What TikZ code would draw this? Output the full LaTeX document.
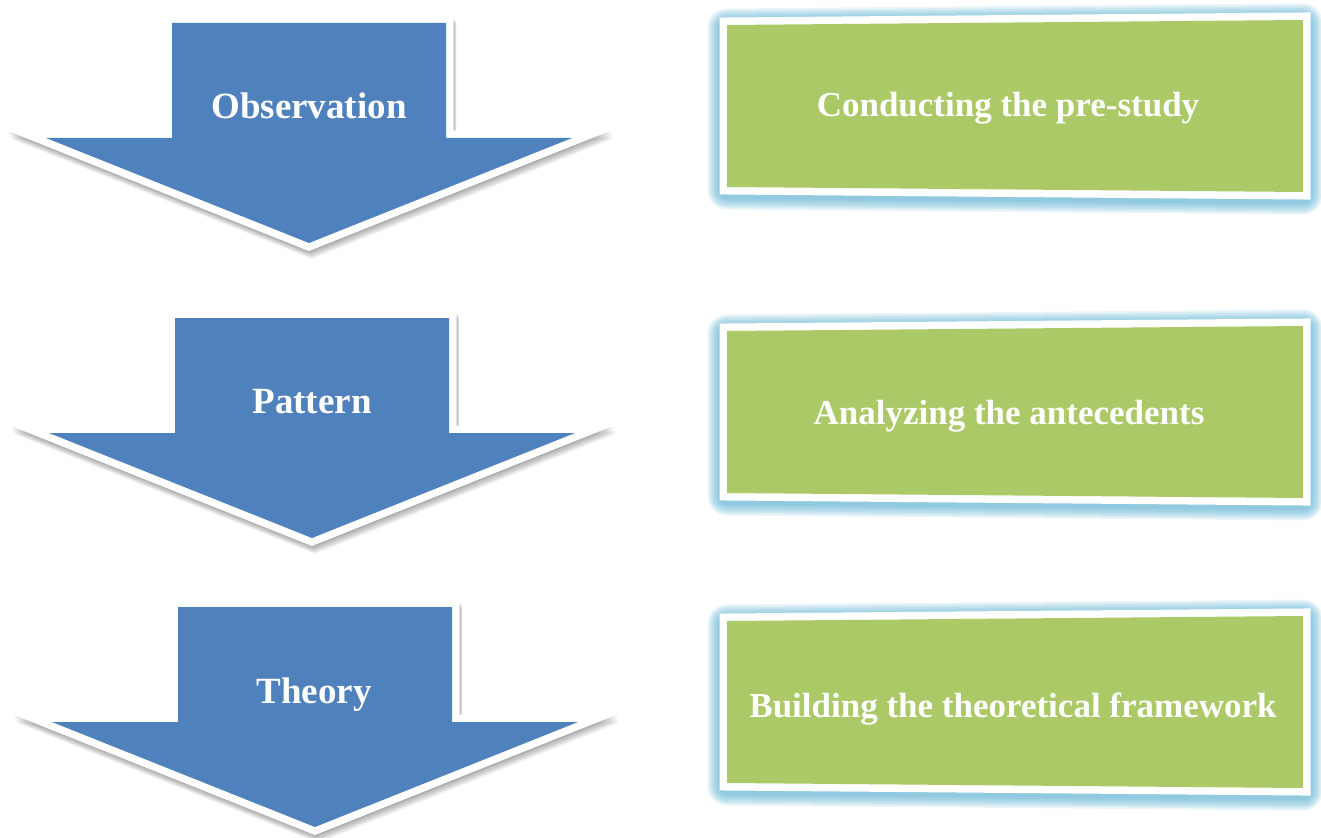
\documentclass[tikz,border=0pt]{standalone}
\usepackage{fontspec}
\setmainfont{Liberation Serif}
\definecolor{arrowblue}{HTML}{4F81BD}
\definecolor{boxgreen}{HTML}{ACC968}
\definecolor{glowblue}{HTML}{4FADD0}
\tikzset{
  lbl/.style={text=white,font=\bfseries\fontsize{37}{42}\selectfont,inner sep=0pt,anchor=base},
  boxlbl/.style={text=white,font=\bfseries\fontsize{35}{40}\selectfont,inner sep=0pt,anchor=base},
  rim/.style={draw=white,line width=15pt,line join=miter,miter limit=10},
}
% arrow path: #1 = centre x, #2 = shaft top y
\newcommand{\arrpath}[2]{
  (#1-137,#2) -- (#1+137,#2) -- (#1+137,#2+115) -- (#1+263,#2+115) --
  (#1,#2+220) -- (#1-263,#2+115) -- (#1-137,#2+115) -- cycle}
% box path: #1 = top y at right
\newcommand{\boxpath}[1]{
  (727,#1+5) -- (1303,#1) -- (1303,#1+172) -- (727,#1+167) -- cycle}
\newcommand{\drawarrow}[2]{
  \foreach \k in {1,...,10}{
    \draw[black,opacity=0.035,line width=15pt,line join=miter,fill=black]
      [shift={(0.3*\k,0.8*\k)}] \arrpath{#1}{#2};
  }
  \draw[rim] \arrpath{#1}{#2};
  \fill[arrowblue] \arrpath{#1}{#2};
}
\newcommand{\drawbox}[1]{
  \foreach \k in {1,...,8}{
    \draw[glowblue,opacity=0.11,line width={15+3*\k},line join=round]
      [shift={(0,3)}] \boxpath{#1};
  }
  \draw[rim] \boxpath{#1};
  \fill[boxgreen] \boxpath{#1};
}
\begin{document}
\begin{tikzpicture}[x=1pt,y=-1pt]
\useasboundingbox (0,0) rectangle (1321,837);
\fill[white] (0,0) rectangle (1321,837);

\drawarrow{309}{23}
\drawarrow{312}{318}
\drawarrow{315}{607}

\drawbox{20}
\drawbox{326}
\drawbox{616}

\node[lbl] (obs) at (309,119) {Observation};
\node[lbl] (pat) at (312,413) {Pattern};
\node[lbl] (the) at (314,703) {Theory};

\node[boxlbl] (b1) at (1008,117) {Conducting the pre-study};
\node[boxlbl] (b2) at (1009,424) {Analyzing the antecedents};
\node[boxlbl] (b3) at (1013,717) {Building the theoretical framework};
\end{tikzpicture}
\end{document}
